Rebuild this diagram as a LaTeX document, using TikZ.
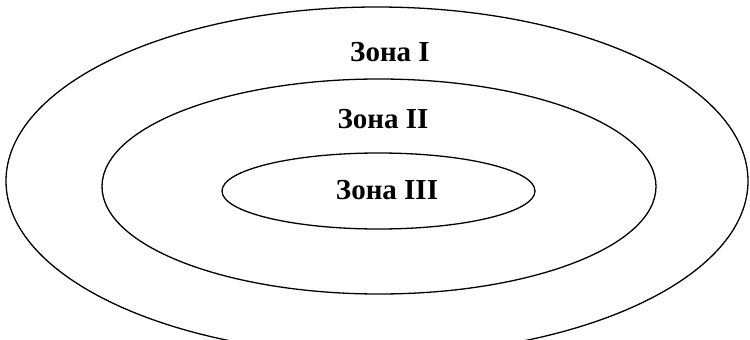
\documentclass[tikz,border=0pt]{standalone}
\usepackage{fontspec}
\setmainfont{Liberation Serif}
\begin{document}
\begin{tikzpicture}[x=1pt,y=-1pt,
  zone/.style={draw=black,line width=1.3pt},
  zonelabel/.style={font=\fontsize{29}{33}\selectfont\bfseries,inner sep=0pt}]
\useasboundingbox (0,0) rectangle (750,340);
\clip (0,0) rectangle (750,340);
% nested zones
\draw[zone] (377,181) ellipse [x radius=371, y radius=174];
\draw[zone] (379,186.5) ellipse [x radius=277, y radius=107.5];
\draw[zone] (378.5,191) ellipse [x radius=156.5, y radius=38];
% labels
\node[zonelabel] (z1) at (390,52) {Зона I};
\node[zonelabel] (z2) at (383,119) {Зона II};
\node[zonelabel] (z3) at (387,190) {Зона III};
\end{tikzpicture}
\end{document}
